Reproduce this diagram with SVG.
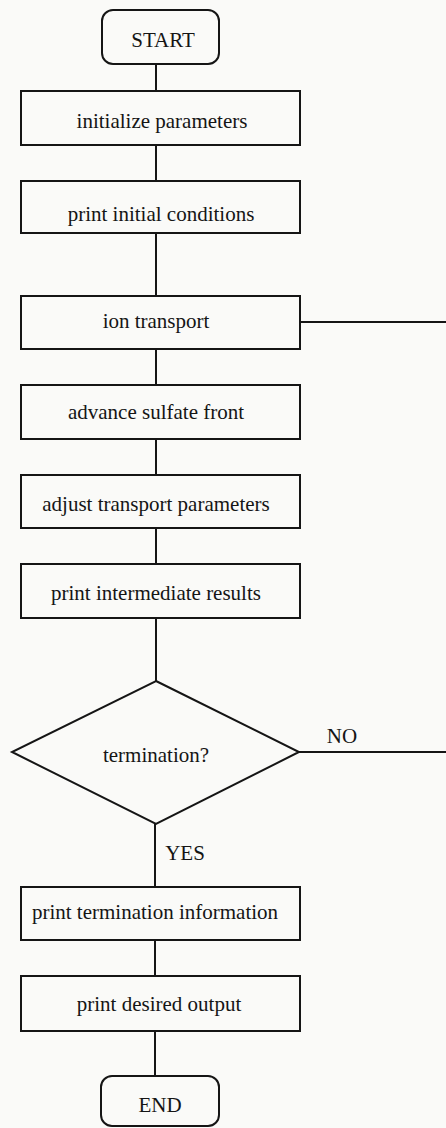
<svg xmlns="http://www.w3.org/2000/svg" width="446" height="1128" viewBox="0 0 446 1128">
<style>
.n{fill:#fafaf8;stroke:#151515;stroke-width:2}
.c{fill:none;stroke:#151515;stroke-width:2}
text{font-family:"Liberation Serif","Times New Roman",serif;font-size:21px;fill:#151515;text-anchor:middle}
</style>
<rect x="0" y="0" width="446" height="1128" fill="#fafaf8"/>
<g id="connectors">
<path class="c" d="M156 64V91M156 145V181M156 233V296M156 349V385M156 439V475M156 528V564M156 618V681M155 824V887M155 940V976M155 1031V1076M300 322H446M299 752H446"/>
</g>
<g id="start"><rect class="n" x="102" y="10" width="117" height="54" rx="11"/><text x="163" y="47">START</text></g>
<g id="init"><rect class="n" x="21" y="91" width="279" height="54"/><text x="162" y="128">initialize parameters</text></g>
<g id="printinit"><rect class="n" x="21" y="181" width="279" height="52"/><text x="161" y="221">print initial conditions</text></g>
<g id="ion"><rect class="n" x="21" y="296" width="279" height="53"/><text x="156" y="328">ion transport</text></g>
<g id="advance"><rect class="n" x="21" y="385" width="279" height="54"/><text x="156" y="419">advance sulfate front</text></g>
<g id="adjust"><rect class="n" x="21" y="475" width="279" height="53"/><text x="156" y="511">adjust transport parameters</text></g>
<g id="printinter"><rect class="n" x="21" y="564" width="279" height="54"/><text x="156" y="600">print intermediate results</text></g>
<g id="decision"><polygon class="n" points="156,681 299,752 156,824 12,752"/><text x="156" y="762">termination?</text></g>
<g id="labels"><text x="342" y="743">NO</text><text x="185" y="860">YES</text></g>
<g id="printterm"><rect class="n" x="21" y="887" width="279" height="53"/><text x="155" y="919">print termination information</text></g>
<g id="printdesired"><rect class="n" x="21" y="976" width="279" height="55"/><text x="159" y="1011">print desired output</text></g>
<g id="end"><rect class="n" x="101" y="1076" width="118" height="50" rx="11"/><text x="160" y="1112">END</text></g>
</svg>
